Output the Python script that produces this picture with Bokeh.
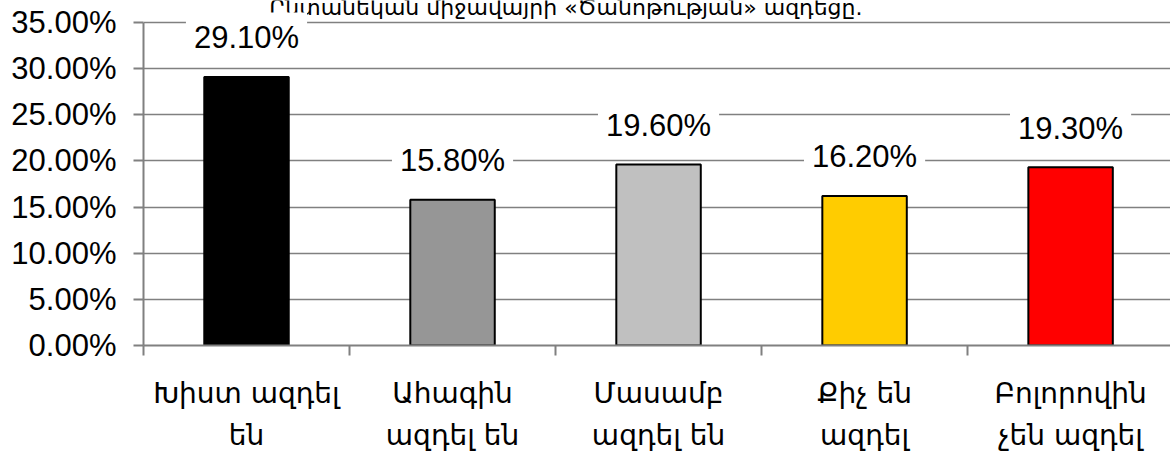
from bokeh.plotting import figure
from bokeh.models import Range1d, FixedTicker, NumeralTickFormatter, Label
from bokeh.core.properties import value
from bokeh.embed import file_html
from bokeh.resources import INLINE

categories = ["Խիստ ազդել\nեն", "Ահագին\nազդել են", "Մասամբ\nազդել են", "Քիչ են\nազդել", "Բոլորովին\nչեն ազդել"]
values = [0.291, 0.158, 0.196, 0.162, 0.193]
value_labels = ["29.10%", "15.80%", "19.60%", "16.20%", "19.30%"]
colors = ["#000000", "#969696", "#C0C0C0", "#FFCC00", "#FF0000"]
y_ticks = [0.0, 0.05, 0.10, 0.15, 0.20, 0.25, 0.30, 0.35]
title_text = "Ընտանեկան միջավայրի «Ծանոթության» ազդեցը."

n = len(categories)
xs = [i + 0.5 for i in range(n)]
y_max = y_ticks[-1]
y_top = y_max * 346 / 324  # extra room above the top gridline for the (cropped) title

p = figure(width=1170, height=454, output_backend="svg", toolbar_location=None,
           x_range=Range1d(0, 4.985), y_range=Range1d(0, y_top),
           min_border_left=143, min_border_right=0, min_border_top=0, min_border_bottom=108)
p.outline_line_color = None
p.background_fill_color = "white"

p.vbar(x=xs, top=values, width=0.41, fill_color=colors, line_color="black", line_width=2)

# cropped title at the very top, as in the reference
p.text(x=[2.05], y=[y_max + (y_top - y_max) * 0.66], text=[title_text],
       text_align="center", text_baseline="alphabetic",
       text_font=value("DejaVu Sans"), text_font_size="22px", text_color="black")

# y axis
p.yaxis.bounds = (0, y_max)
p.yaxis.ticker = FixedTicker(ticks=y_ticks)
p.yaxis.formatter = NumeralTickFormatter(format="0.00%")
p.yaxis.major_label_text_font = "Liberation Sans"
p.yaxis.major_label_text_font_size = "31px"
p.yaxis.major_label_text_color = "black"
p.yaxis.major_tick_out = 10
p.yaxis.major_tick_in = 0
p.yaxis.minor_tick_line_color = None
p.yaxis.axis_line_color = "#808080"
p.yaxis.axis_line_width = 2
p.yaxis.major_tick_line_color = "#808080"
p.yaxis.major_tick_line_width = 2
p.yaxis.major_label_standoff = 17

# x axis
p.xaxis.ticker = FixedTicker(ticks=xs, minor_ticks=list(range(n + 1)))
p.xaxis.major_label_overrides = {x: c for x, c in zip(xs, categories)}
p.xaxis.major_label_text_font = "DejaVu Sans"
p.xaxis.major_label_text_font_size = "28px"
p.xaxis.major_label_text_color = "black"
p.xaxis.major_label_text_line_height = 1.28
p.xaxis.major_tick_line_color = None
p.xaxis.major_tick_out = 0
p.xaxis.major_tick_in = 0
p.xaxis.minor_tick_out = 10
p.xaxis.minor_tick_in = 0
p.xaxis.minor_tick_line_color = "#808080"
p.xaxis.minor_tick_line_width = 2
p.xaxis.axis_line_color = "#808080"
p.xaxis.axis_line_width = 2
p.xaxis.major_label_standoff = 21

p.xgrid.grid_line_color = None
p.ygrid.ticker = FixedTicker(ticks=y_ticks)
p.ygrid.grid_line_color = "#808080"
p.ygrid.grid_line_width = 1.5

for x, v, t in zip(xs, values, value_labels):
    p.add_layout(Label(x=x, y=v, text=t, y_offset=39, text_align="center",
                       text_baseline="middle", text_font="Liberation Sans",
                       text_font_size="31px", text_color="black",
                       background_fill_color="white", padding=8))

open("out.html", "w").write(file_html(p, INLINE))
